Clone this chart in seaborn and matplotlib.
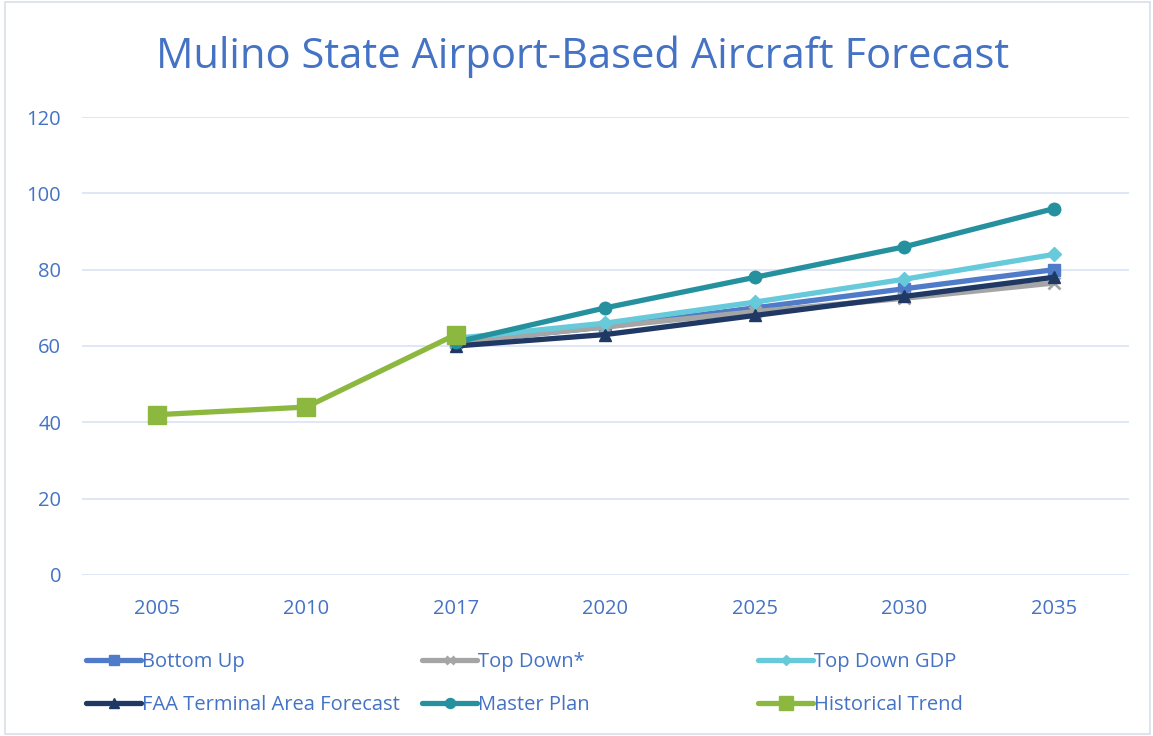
import numpy as np
import pandas as pd
import matplotlib.pyplot as plt
import seaborn as sns

# chart values
years = ["2005", "2010", "2017", "2020", "2025", "2030", "2035"]
bottom_up = [np.nan, np.nan, 61, 65, 70, 75, 80]
top_down = [np.nan, np.nan, 61, 65, 69, 72.5, 76.5]
top_down_gdp = [np.nan, np.nan, 62, 66, 71.5, 77.5, 84]
faa_taf = [np.nan, np.nan, 60, 63, 68, 73, 78]
master_plan = [np.nan, np.nan, 61, 70, 78, 86, 96]
historical = [42, 44, 63, np.nan, np.nan, np.nan, np.nan]

series = {
    "Bottom Up": bottom_up,
    "Top Down*": top_down,
    "Top Down GDP": top_down_gdp,
    "FAA Terminal Area Forecast": faa_taf,
    "Master Plan": master_plan,
    "Historical Trend": historical,
}

styles = {
    "Bottom Up": dict(color="#4F7BC8", marker="s", markersize=9),
    "Top Down*": dict(color="#A5A5A5", marker="x", markersize=8, markeredgewidth=2),
    "Top Down GDP": dict(color="#66CADB", marker="D", markersize=7),
    "FAA Terminal Area Forecast": dict(color="#1F3864", marker="^", markersize=9),
    "Master Plan": dict(color="#26919E", marker="o", markersize=9),
    "Historical Trend": dict(color="#8DB83F", marker="s", markersize=13),
}

# long format table for seaborn
rows = []
for name, vals in series.items():
    for i, v in enumerate(vals):
        if not np.isnan(v):
            rows.append({"series": name, "pos": i, "value": v})
df = pd.DataFrame(rows)

sns.set_style("white")
plt.rcParams["font.family"] = ["Open Sans", "DejaVu Sans"]

text_blue = "#4472C4"
fig = plt.figure(figsize=(11.53, 7.36), dpi=100)
ax = fig.add_axes([0.0711, 0.2188, 0.9079, 0.6222])

handles = {}
for name in series:
    sub = df[df["series"] == name]
    st = styles[name]
    sns.lineplot(data=sub, x="pos", y="value", ax=ax, color=st["color"],
                 linewidth=3.8, marker=st["marker"], markersize=st["markersize"],
                 markeredgecolor=st["color"],
                 markeredgewidth=st.get("markeredgewidth", 1), label=name, legend=False)
    handles[name] = ax.lines[-1]

ax.set_xlim(-0.5, len(years) - 0.5)
ax.set_ylim(0, 120)
ax.set_xticks(range(len(years)))
ax.set_xticklabels(years)
ax.set_yticks(np.arange(0, 121, 20))
ax.set_xlabel("")
ax.set_ylabel("")
ax.grid(axis="y", color="#D9E1F2", linewidth=1.2)
ax.set_axisbelow(True)
for sp in ax.spines.values():
    sp.set_visible(False)
ax.tick_params(axis="both", length=0, labelsize=14.5, labelcolor=text_blue)
ax.tick_params(axis="x", pad=17)
ax.tick_params(axis="y", pad=15)

fig.text(0.505, 0.9226, "Mulino State Airport-Based Aircraft Forecast", ha="center",
         va="center", fontsize=30, color=text_blue)

# one legend per column so the columns sit at fixed positions like the original
columns = [["Bottom Up", "FAA Terminal Area Forecast"],
           ["Top Down*", "Master Plan"],
           ["Top Down GDP", "Historical Trend"]]
col_x = [86 / 1153, 422 / 1153, 758 / 1153]
for names, x in zip(columns, col_x):
    leg = fig.legend([handles[n] for n in names], names, loc="center left",
                     bbox_to_anchor=(x, 0.0715), frameon=False, fontsize=14.5,
                     labelcolor=text_blue, handlelength=2.75, handletextpad=0.05,
                     labelspacing=1.15, borderpad=0, borderaxespad=0,
                     markerscale=0.8)

# light outer frame of the chart
fig.patches.append(plt.Rectangle((0.004, 0.003), 0.993, 0.994, transform=fig.transFigure,
                                 fill=False, edgecolor="#D9DEE8", linewidth=1.2))

fig.savefig("out.png", dpi=100)
